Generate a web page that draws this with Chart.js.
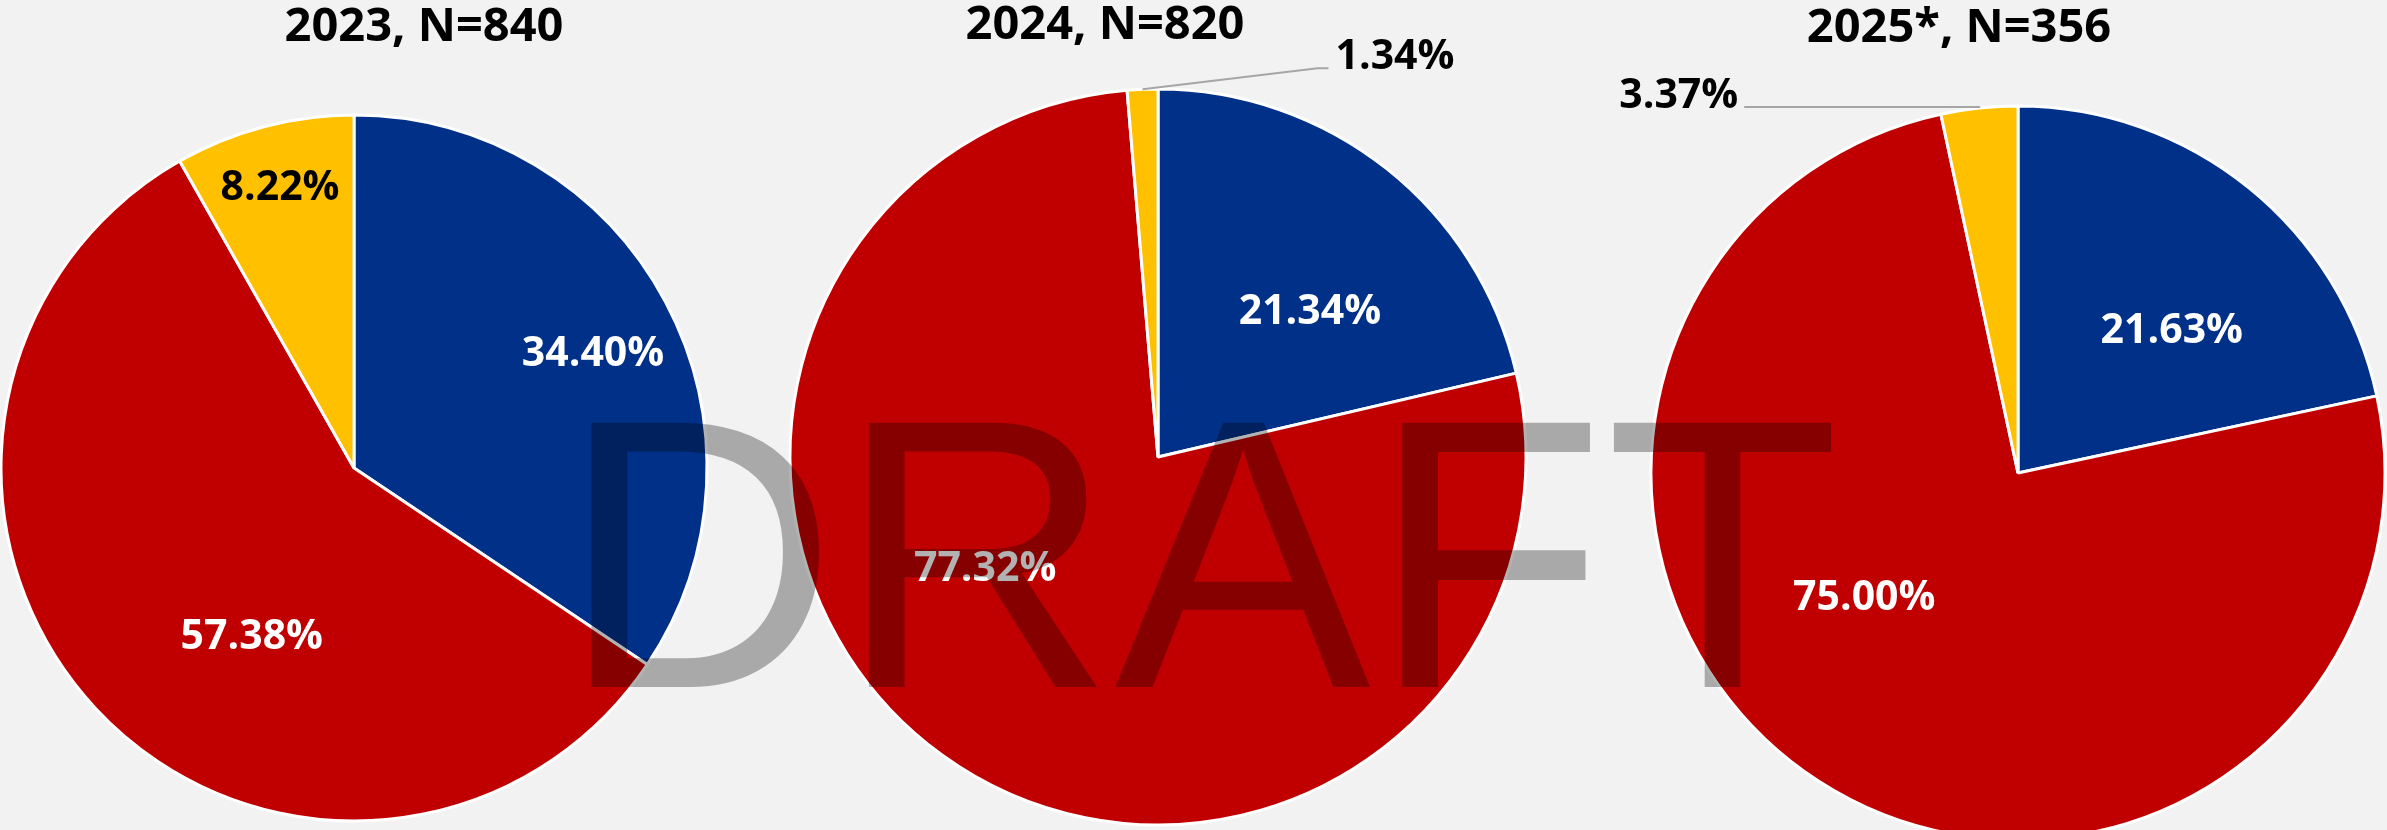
<!DOCTYPE html>
<html>
<head>
<meta charset="utf-8">
<title>Share by year</title>
<script src="https://cdn.jsdelivr.net/npm/chart.js@4.4.1/dist/chart.umd.min.js"></script>
<style>
html, body { margin: 0; padding: 0; background: #f2f2f2; overflow: hidden; }
#wrap { position: relative; width: 2387px; height: 830px; overflow: hidden; background: #f2f2f2; }
canvas.pie { position: absolute; left: 0; top: 0; }
#draft {
    position: absolute; left: 560px; top: 362px;
    font: 384px "Liberation Sans", Arial, sans-serif; line-height: 384px;
    color: rgba(0, 0, 0, 0.3); white-space: nowrap; pointer-events: none;
}
</style>
</head>
<body>
<div id="wrap">
    <canvas id="pie2023" class="pie" width="2387" height="900"></canvas>
    <canvas id="pie2024" class="pie" width="2387" height="900"></canvas>
    <canvas id="pie2025" class="pie" width="2387" height="900"></canvas>
    <div id="draft">DRAFT</div>
</div>
<script>
// ===== DATA =====
const categories = ["Category 1", "Category 2", "Category 3"];
const years = ["2023", "2024", "2025*"];
const sampleSizes = [840, 820, 356];
const share2023 = [34.40, 57.38, 8.22];
const share2024 = [21.34, 77.32, 1.34];
const share2025 = [21.63, 75.00, 3.37];
const sliceColors = ["#003087", "#C00000", "#FFC000"];
const labelColors = ["#ffffff", "#ffffff", "#000000"];

// ===== LAYOUT (pie centre, radius, title, label placement) =====
const W = 2387, H = 900;
const pies = [
    { id: "pie2023", values: share2023, cx: 354, cy: 468, r: 353, titleX: 424, titleY: 41,
      place: [{ da: 2.6, f: 0.75 }, { da: -16, f: 0.56 }, { da: 0, f: 0.82 }] },
    { id: "pie2024", values: share2024, cx: 1158, cy: 457, r: 368, titleX: 1105, titleY: 39,
      place: [{ da: 8, f: 0.57 }, { da: 21, f: 0.56 }, { out: { dx: 175, dy: -21, run: 11 } }] },
    { id: "pie2025", values: share2025, cx: 2018, cy: 473, r: 367, titleX: 1959, titleY: 42,
      place: [{ da: 8.4, f: 0.57 }, { da: 18, f: 0.54 }, { out: { dx: 0, dy: -1, run: -235 } }] }
];

// ===== LABELS + TITLE PLUGIN =====
const sliceLabels = {
    id: "sliceLabels",
    afterDatasetsDraw(chart, args, opts){
        const ctx = chart.ctx;
        const meta = chart.getDatasetMeta(0);
        const values = chart.data.datasets[0].data;
        ctx.save();
        ctx.font = "bold 41px 'Open Sans', sans-serif";
        meta.data.forEach((arc, i) => {
            const p = arc.getProps(["x", "y", "startAngle", "endAngle", "outerRadius"], true);
            const mid = (p.startAngle + p.endAngle) / 2;
            const spec = opts.place[i];
            const text = values[i].toFixed(2) + "%";
            if(spec.out){
                // outside label with a leader line from the slice edge
                const ex = p.x + Math.cos(mid) * p.outerRadius;
                const ey = p.y + Math.sin(mid) * p.outerRadius;
                const kx = ex + spec.out.dx, ky = ey + spec.out.dy;
                const endX = kx + spec.out.run;
                ctx.strokeStyle = "#a6a6a6";
                ctx.lineWidth = 2;
                ctx.beginPath();
                ctx.moveTo(ex, ey);
                ctx.lineTo(kx, ky);
                ctx.lineTo(endX, ky);
                ctx.stroke();
                ctx.fillStyle = "#000";
                ctx.textBaseline = "alphabetic";
                ctx.textAlign = spec.out.run >= 0 ? "left" : "right";
                ctx.fillText(text, endX + (spec.out.run >= 0 ? 7 : -6), ky + 1);
            }else{
                const a = mid + spec.da * Math.PI / 180;
                const d = spec.f * p.outerRadius;
                ctx.fillStyle = labelColors[i];
                ctx.textAlign = "center";
                ctx.textBaseline = "middle";
                ctx.fillText(text, p.x + Math.cos(a) * d, p.y + Math.sin(a) * d);
            }
        });
        ctx.font = "bold 47px 'Open Sans', sans-serif";
        ctx.fillStyle = "#000";
        ctx.textAlign = "center";
        ctx.textBaseline = "alphabetic";
        ctx.fillText(opts.title, opts.titleX, opts.titleY);
        ctx.restore();
    }
};

// ===== BUILD CHARTS =====
pies.forEach((p, k) => {
    new Chart(document.getElementById(p.id), {
        type: "pie",
        data: {
            labels: categories,
            datasets: [{
                data: p.values,
                backgroundColor: sliceColors,
                borderColor: "#ffffff",
                borderWidth: 3,
                clip: false
            }]
        },
        options: {
            responsive: false,
            animation: false,
            events: [],
            radius: p.r,
            layout: {
                padding: { left: p.cx - 50, right: W - p.cx - 50, top: p.cy - 50, bottom: H - p.cy - 50 }
            },
            plugins: {
                legend: { display: false },
                tooltip: { enabled: false },
                sliceLabels: {
                    place: p.place,
                    title: years[k] + ", N=" + sampleSizes[k],
                    titleX: p.titleX,
                    titleY: p.titleY
                }
            }
        },
        plugins: [sliceLabels]
    });
});
</script>
</body>
</html>
